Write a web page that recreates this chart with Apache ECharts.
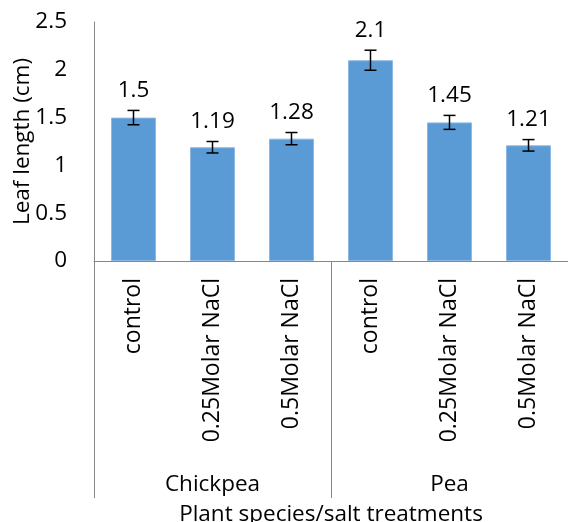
<!DOCTYPE html>
<html>
<head>
<meta charset="utf-8">
<script src="https://cdn.jsdelivr.net/npm/echarts@6/dist/echarts.min.js"></script>
<style>html,body{margin:0;padding:0;background:#fff}#c{width:568px;height:522px}</style>
</head>
<body>
<div id="c"></div>
<script>
const treatments = ['control', '0.25Molar NaCl', '0.5Molar NaCl', 'control', '0.25Molar NaCl', '0.5Molar NaCl'];
const species = ['Chickpea', 'Pea'];
const values = [1.5, 1.19, 1.28, 2.1, 1.45, 1.21];
const errors = [0.075, 0.06, 0.064, 0.105, 0.073, 0.06];
const yMin = 0, yMax = 2.5, yStep = 0.5;

const FONT = 'Open Sans';
const FS = 22.5;
const AXIS = '#868686';

const chart = echarts.init(document.getElementById('c'), null, {renderer: 'canvas'});
chart.setOption({
  animation: false,
  textStyle: {fontFamily: FONT},
  grid: {left: 94, right: 0, top: 22, bottom: 261, containLabel: false, outerBoundsMode: 'none'},
  xAxis: [{
    type: 'category',
    data: treatments,
    position: 'bottom',
    axisLine: {show: true, lineStyle: {color: AXIS, width: 1}},
    axisTick: {show: false},
    axisLabel: {rotate: 90, margin: 17, fontSize: 23, color: '#000', fontFamily: FONT, interval: 0}
  }, {
    type: 'category',
    data: species,
    position: 'bottom',
    axisLine: {show: false},
    axisTick: {show: true, length: 237, lineStyle: {color: AXIS, width: 1}},
    axisLabel: {margin: 212, fontSize: FS, color: '#000', fontFamily: FONT, interval: 0},
    name: 'Plant species/salt treatments',
    nameLocation: 'middle',
    nameGap: 242,
    nameMoveOverlap: false,
    nameTextStyle: {fontSize: FS, color: '#000', fontFamily: FONT}
  }],
  yAxis: {
    type: 'value',
    min: yMin, max: yMax, interval: yStep,
    axisLine: {show: true, lineStyle: {color: AXIS, width: 1}},
    axisTick: {show: false},
    splitLine: {show: false},
    axisLabel: {margin: 27, fontSize: FS, color: '#000', fontFamily: FONT},
    name: 'Leaf length (cm)',
    nameLocation: 'middle',
    nameGap: 60,
    nameMoveOverlap: false,
    nameTextStyle: {fontSize: FS, color: '#000', fontFamily: FONT}
  },
  series: [{
    type: 'bar',
    xAxisIndex: 0,
    data: values,
    barWidth: '57%',
    itemStyle: {color: '#5B9BD5', borderColor: '#8db9e3', borderWidth: 1}
  }, {
    type: 'custom',
    xAxisIndex: 0,
    data: values.map((v, i) => [i, v, errors[i]]),
    encode: {x: 0, y: 1},
    z: 10,
    renderItem: function (params, api) {
      const i = api.value(0), v = api.value(1), e = api.value(2);
      const top = api.coord([i, v + e]);
      const bot = api.coord([i, v - e]);
      const cap = 6;
      const style = {stroke: '#000', lineWidth: 1.5};
      return {
        type: 'group',
        children: [
          {type: 'line', shape: {x1: top[0], y1: top[1], x2: bot[0], y2: bot[1]}, style: style},
          {type: 'line', shape: {x1: top[0] - cap, y1: top[1], x2: top[0] + cap, y2: top[1]}, style: style},
          {type: 'line', shape: {x1: bot[0] - cap, y1: bot[1], x2: bot[0] + cap, y2: bot[1]}, style: style},
          {type: 'text', x: top[0], y: top[1] - 8, style: {text: String(values[i]), fill: '#000', fontSize: FS, fontFamily: FONT, align: 'center', verticalAlign: 'bottom'}}
        ]
      };
    }
  }]
});
</script>
</body>
</html>
